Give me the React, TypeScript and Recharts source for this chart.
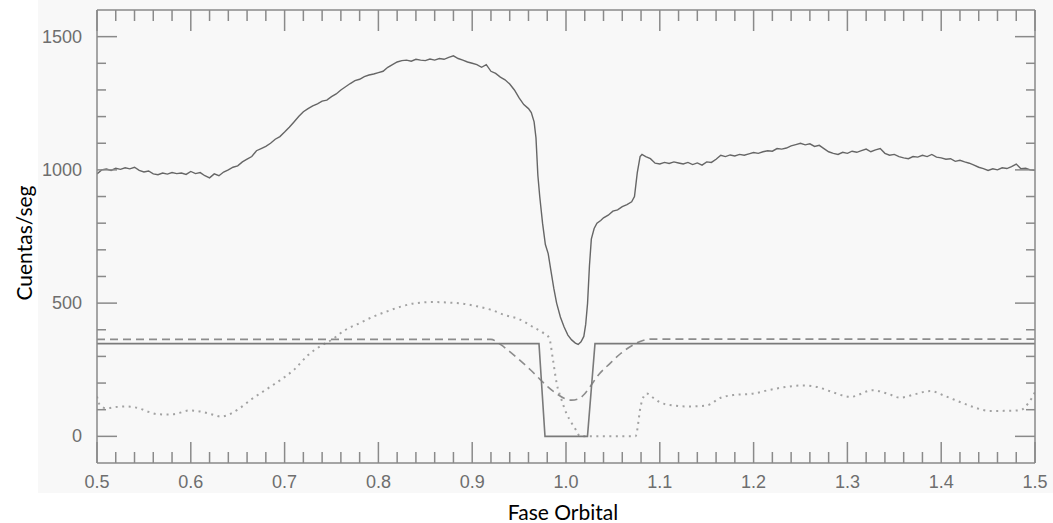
import React from "react";
import { LineChart, Line, XAxis, YAxis } from "recharts";

// Total light curve (cuentas/seg) vs orbital phase
const curvePhase = [
  0.5, 0.505, 0.51, 0.515, 0.52, 0.525, 0.53, 0.535, 0.54, 0.545, 0.55, 0.555, 0.56, 0.565, 0.57, 0.575, 0.58, 0.585, 0.59, 0.595,
  0.6, 0.605, 0.61, 0.615, 0.62, 0.625, 0.63, 0.635, 0.64, 0.645, 0.65, 0.655, 0.66, 0.665, 0.67, 0.675, 0.68, 0.685, 0.69, 0.695,
  0.7, 0.705, 0.71, 0.715, 0.72, 0.725, 0.73, 0.735, 0.74, 0.745, 0.75, 0.755, 0.76, 0.765, 0.77, 0.775, 0.78, 0.785, 0.79, 0.795,
  0.8, 0.805, 0.81, 0.815, 0.82, 0.825, 0.83, 0.835, 0.84, 0.845, 0.85, 0.855, 0.86, 0.865, 0.87, 0.875, 0.88, 0.885, 0.89, 0.895,
  0.9, 0.905, 0.91, 0.915, 0.92, 0.925, 0.93, 0.935, 0.94, 0.945, 0.95, 0.955, 0.96, 0.963, 0.966, 0.968, 0.97, 0.972, 0.975, 0.978,
  0.981, 0.984, 0.987, 0.99, 0.994, 0.998, 1.002, 1.006, 1.01, 1.013, 1.016, 1.019, 1.021, 1.023, 1.025, 1.027, 1.03, 1.033, 1.037, 1.04,
  1.045, 1.05, 1.055, 1.06, 1.065, 1.07, 1.073, 1.076, 1.079, 1.081, 1.085, 1.09, 1.095, 1.1, 1.105, 1.11, 1.115, 1.12, 1.125, 1.13,
  1.135, 1.14, 1.145, 1.15, 1.155, 1.16, 1.165, 1.17, 1.175, 1.18, 1.185, 1.19, 1.195, 1.2, 1.205, 1.21, 1.215, 1.22, 1.225, 1.23,
  1.235, 1.24, 1.245, 1.25, 1.255, 1.26, 1.265, 1.27, 1.275, 1.28, 1.285, 1.29, 1.295, 1.3, 1.305, 1.31, 1.315, 1.32, 1.325, 1.33,
  1.335, 1.34, 1.345, 1.35, 1.355, 1.36, 1.365, 1.37, 1.375, 1.38, 1.385, 1.39, 1.395, 1.4, 1.405, 1.41, 1.415, 1.42, 1.425, 1.43,
  1.435, 1.44, 1.445, 1.45, 1.455, 1.46, 1.465, 1.47, 1.475, 1.48, 1.485, 1.49, 1.495, 1.5,
];
const curveCounts = [
  985, 1000, 1003, 998, 1006, 1002, 1008, 1004, 1010, 998, 992, 996, 985, 982, 988, 984, 990, 986, 988, 983,
  994, 986, 990, 978, 970, 985, 978, 992, 1000, 1010, 1015, 1030, 1040, 1050, 1072, 1080, 1088, 1100, 1115, 1125,
  1142, 1160, 1180, 1200, 1218, 1230, 1240, 1248, 1258, 1262, 1275, 1285, 1300, 1312, 1324, 1335, 1340, 1350, 1356, 1360,
  1365, 1370, 1385, 1395, 1405, 1410, 1412, 1408, 1415, 1412, 1410, 1416, 1412, 1418, 1415, 1422, 1428, 1418, 1412, 1405,
  1400, 1395, 1385, 1395, 1370, 1362, 1348, 1338, 1322, 1300, 1270, 1245, 1230, 1215, 1180, 1120, 980, 900, 800, 720,
  686, 620, 555, 500, 448, 410, 380, 362, 350, 345, 355, 375, 420, 500, 640, 740, 780, 800, 810, 820,
  830, 845, 850, 862, 870, 880, 900, 990, 1050, 1058, 1050, 1042, 1025, 1022, 1028, 1024, 1030, 1026, 1022, 1028,
  1020, 1026, 1018, 1030, 1028, 1040, 1055, 1050, 1056, 1052, 1058, 1055, 1060, 1065, 1062, 1068, 1072, 1070, 1080, 1078,
  1082, 1090, 1095, 1100, 1094, 1098, 1088, 1092, 1080, 1068, 1062, 1058, 1066, 1062, 1070, 1066, 1072, 1078, 1068, 1075,
  1080, 1062, 1055, 1058, 1050, 1045, 1042, 1050, 1048, 1055, 1050, 1058, 1048, 1045, 1040, 1042, 1032, 1036, 1030, 1025,
  1018, 1010, 1005, 998, 1004, 1000, 1008, 1005, 1012, 1022, 1004, 1006, 1000, 998,
];

// Eclipsed component (solid box)
const boxPhase = [0.5, 0.9712, 0.9776, 1.0229, 1.0309, 1.5];
const boxCounts = [348, 348, 0, 0, 348, 348];

// Dashed component
const dashPhase = [0.5, 0.92, 0.93, 0.94, 0.951, 0.962, 0.972, 0.981, 0.99, 0.998, 1.006, 1.014, 1.02, 1.026, 1.035, 1.047, 1.058, 1.071, 1.082, 1.09, 1.5];
const dashCounts = [364, 364, 345, 318, 285, 250, 215, 185, 160, 143, 136, 142, 160, 188, 232, 274, 310, 342, 360, 365, 365];

// Dotted component
const dotPhase = [
  0.5, 0.503, 0.51, 0.52, 0.532, 0.545, 0.555, 0.565, 0.575, 0.585, 0.598, 0.612, 0.625, 0.632, 0.642, 0.652, 0.665, 0.68, 0.695, 0.71,
  0.725, 0.738, 0.75, 0.765, 0.78, 0.795, 0.81, 0.825, 0.84, 0.858, 0.875, 0.89, 0.905, 0.92, 0.935, 0.95, 0.965, 0.975, 0.982, 0.986,
  0.99, 0.995, 1.0, 1.006, 1.011, 1.015, 1.074, 1.08, 1.086, 1.093, 1.1, 1.114, 1.13, 1.15, 1.165, 1.178, 1.199, 1.214, 1.23, 1.253,
  1.268, 1.285, 1.303, 1.327, 1.343, 1.356, 1.372, 1.388, 1.405, 1.42, 1.436, 1.452, 1.47, 1.484, 1.494, 1.5,
];
const dotCounts = [
  150, 118, 105, 110, 112, 105, 92, 83, 82, 85, 97, 92, 80, 74, 84, 105, 140, 175, 210, 250,
  305, 338, 362, 400, 425, 450, 470, 488, 500, 504, 502, 498, 488, 475, 455, 440, 410, 390, 370, 290,
  200, 140, 90, 50, 22, 0, 0, 120, 161, 145, 128, 116, 112, 116, 145, 155, 160, 172, 183, 191,
  185, 165, 148, 173, 160, 145, 158, 170, 150, 129, 108, 95, 96, 98, 130, 166,
];

const xTicks = Array.from({ length: 51 }, (_, i) => Math.round((0.5 + i * 0.02) * 100) / 100);
const yTicks = Array.from({ length: 16 }, (_, i) => i * 100);

const zip = (xs: number[], ys: number[]) => xs.map((x, i) => ({ x, y: ys[i] }));
const curveData = zip(curvePhase, curveCounts);
const boxData = zip(boxPhase, boxCounts);
const dashData = zip(dashPhase, dashCounts);
const dotData = zip(dotPhase, dotCounts);

const AX = "#8a8a8a";
const LBL = "#6e6e6e";
const tickFont = "'Liberation Sans', Arial, Helvetica, sans-serif";
const titleFont = "Lato, 'Open Sans', sans-serif";

const isMajorX = (v: number) => Math.abs(v * 10 - Math.round(v * 10)) < 1e-6;
const isMajorY = (v: number) => Math.abs(v / 500 - Math.round(v / 500)) < 1e-6;

const BottomTick = (p: any) => {
  const v = p.payload.value;
  const major = isMajorX(v);
  return (
    <g>
      <line x1={p.x} x2={p.x} y1={p.y} y2={p.y - (major ? 21 : 11)} stroke={AX} strokeWidth={1.5} />
      {major && (
        <text x={p.x} y={p.y + 19} textAnchor="middle" dominantBaseline="central" fill={LBL} fontSize={18} fontFamily={tickFont}>
          {v.toFixed(1)}
        </text>
      )}
    </g>
  );
};
const TopTick = (p: any) => {
  const v = p.payload.value;
  const major = isMajorX(v);
  return <line x1={p.x} x2={p.x} y1={p.y} y2={p.y + (major ? 21 : 11)} stroke={AX} strokeWidth={1.5} />;
};
const LeftTick = (p: any) => {
  const v = p.payload.value;
  const major = isMajorY(v);
  return (
    <g>
      <line x1={p.x} x2={p.x + (major ? 20 : 9)} y1={p.y} y2={p.y} stroke={AX} strokeWidth={1.5} />
      {major && (
        <text x={p.x - 15} y={p.y} textAnchor="end" dominantBaseline="central" fill={LBL} fontSize={18} fontFamily={tickFont}>
          {String(v)}
        </text>
      )}
    </g>
  );
};
const RightTick = (p: any) => {
  const v = p.payload.value;
  const major = isMajorY(v);
  return <line x1={p.x} x2={p.x - (major ? 20 : 9)} y1={p.y} y2={p.y} stroke={AX} strokeWidth={1.5} />;
};

export default function App() {
  return (
    <div style={{ position: "absolute", left: 0, top: 0, width: 1053, height: 523, background: "#fff" }}>
      <div style={{ position: "absolute", left: 38, top: 0, width: 1015, height: 493, background: "#f8f8f8" }} />
      <div style={{ position: "absolute", left: 0, top: 0 }}>
        <LineChart width={1053} height={523} margin={{ top: 9, right: 17, bottom: 20, left: 37 }}>
          <XAxis
            dataKey="x"
            type="number"
            domain={[0.5, 1.5]}
            ticks={xTicks}
            interval={0}
            height={40}
            tickSize={0}
            tickMargin={0}
            tickLine={false}
            axisLine={{ stroke: AX, strokeWidth: 1.5 }}
            tick={<BottomTick />}
            allowDataOverflow
          />
          <XAxis
            xAxisId="top"
            orientation="top"
            dataKey="x"
            type="number"
            domain={[0.5, 1.5]}
            ticks={xTicks}
            interval={0}
            height={1}
            tickSize={0}
            tickMargin={0}
            tickLine={false}
            axisLine={{ stroke: AX, strokeWidth: 1.5 }}
            tick={<TopTick />}
            allowDataOverflow
          />
          <YAxis
            type="number"
            domain={[-100, 1600]}
            ticks={yTicks}
            interval={0}
            width={60}
            tickSize={0}
            tickMargin={0}
            tickLine={false}
            axisLine={{ stroke: AX, strokeWidth: 1.5 }}
            tick={<LeftTick />}
            allowDataOverflow
          />
          <YAxis
            yAxisId="right"
            orientation="right"
            type="number"
            domain={[-100, 1600]}
            ticks={yTicks}
            interval={0}
            width={1}
            tickSize={0}
            tickMargin={0}
            tickLine={false}
            axisLine={{ stroke: AX, strokeWidth: 1.5 }}
            tick={<RightTick />}
            allowDataOverflow
          />
          <Line data={dotData} dataKey="y" type="monotone" stroke="#a2a2a2" strokeWidth={2} strokeDasharray="2 4.5" dot={false} isAnimationActive={false} />
          <Line data={dashData} dataKey="y" type="monotone" stroke="#8c8c8c" strokeWidth={1.6} strokeDasharray="8 5" dot={false} isAnimationActive={false} />
          <Line data={boxData} dataKey="y" type="linear" stroke="#7a7a7a" strokeWidth={1.6} dot={false} isAnimationActive={false} />
          <Line data={curveData} dataKey="y" type="linear" stroke="#666" strokeWidth={1.4} dot={false} isAnimationActive={false} />
        </LineChart>
      </div>
      <div
        style={{
          position: "absolute",
          left: 463,
          top: 499,
          width: 200,
          textAlign: "center",
          fontFamily: titleFont,
          fontSize: 21,
          color: "#000",
          lineHeight: "26px",
        }}
      >
        Fase Orbital
      </div>
      <div
        style={{
          position: "absolute",
          left: 24,
          top: 243,
          transform: "translate(-50%, -50%) rotate(-90deg)",
          fontFamily: titleFont,
          fontSize: 21,
          color: "#000",
          whiteSpace: "nowrap",
          lineHeight: "26px",
        }}
      >
        Cuentas/seg
      </div>
    </div>
  );
}
